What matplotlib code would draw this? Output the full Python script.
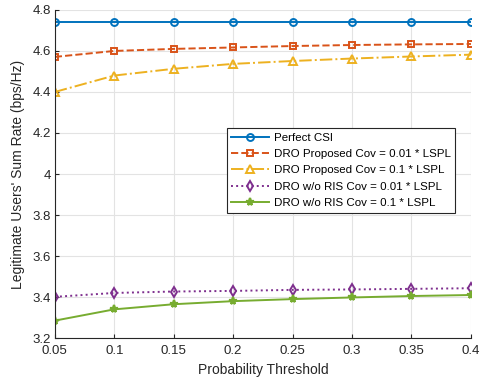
import numpy as np
import matplotlib
matplotlib.use('Agg')
import matplotlib.pyplot as plt

plt.rcParams['font.family'] = ['Liberation Sans', 'DejaVu Sans']

threshold = [0.05, 0.1, 0.15, 0.2, 0.25, 0.3, 0.35, 0.4]
perfect_csi = [4.741, 4.741, 4.741, 4.741, 4.741, 4.741, 4.741, 4.741]
dro_prop_001 = [4.571, 4.600, 4.610, 4.617, 4.624, 4.629, 4.632, 4.634]
dro_prop_01 = [4.400, 4.480, 4.513, 4.537, 4.551, 4.563, 4.573, 4.582]
dro_noris_001 = [3.401, 3.420, 3.427, 3.430, 3.435, 3.437, 3.440, 3.443]
dro_noris_01 = [3.285, 3.340, 3.365, 3.380, 3.390, 3.398, 3.405, 3.410]

labels = ['Perfect CSI',
          'DRO Proposed Cov = 0.01 * LSPL',
          'DRO Proposed Cov = 0.1 * LSPL',
          'DRO w/o RIS Cov = 0.01 * LSPL',
          'DRO w/o RIS Cov = 0.1 * LSPL']

fig = plt.figure(figsize=(4.85, 3.82), dpi=100)
ax = fig.add_axes([0.113, 0.115, 0.858, 0.859])

ax.plot(threshold, perfect_csi, '-o', color='#0072BD', lw=1.4, ms=5,
        mfc='none', mew=1.4, label=labels[0])
ax.plot(threshold, dro_prop_001, '--s', color='#D95319', lw=1.4, ms=5,
        mfc='none', mew=1.4, label=labels[1])
ax.plot(threshold, dro_prop_01, '-.^', color='#EDB120', lw=1.4, ms=6,
        mfc='none', mew=1.4, label=labels[2])
ax.plot(threshold, dro_noris_001, ':d', color='#7E2F8E', lw=1.4, ms=5.5,
        mfc='none', mew=1.4, label=labels[3])
ax.plot(threshold, dro_noris_01, '-*', color='#77AC30', lw=1.4, ms=5.5,
        mew=1.6, label=labels[4])

ax.set_xlim(0.05, 0.4)
ax.set_ylim(3.2, 4.8)
ax.set_xticks(threshold)
ax.set_xticklabels(['0.05', '0.1', '0.15', '0.2', '0.25', '0.3', '0.35', '0.4'])
ax.set_yticks(np.arange(3.2, 4.81, 0.2))
ax.set_yticklabels(['3.2', '3.4', '3.6', '3.8', '4', '4.2', '4.4', '4.6', '4.8'])
ax.grid(True, color='#e3e3e3', lw=0.8)
ax.set_axisbelow(True)
ax.tick_params(direction='in', labelsize=9.5, colors='#262626', length=3)
ax.tick_params(axis='x', pad=5)
ax.tick_params(axis='y', pad=3)
for s in ['top', 'right']:
    ax.spines[s].set_visible(False)
for s in ['left', 'bottom']:
    ax.spines[s].set_color('#262626')
ax.set_xlabel('Probability Threshold', fontsize=10, color='#262626', labelpad=4)
ax.set_ylabel("Legitimate Users' Sum Rate (bps/Hz)", fontsize=10,
              color='#262626', labelpad=5)

leg = ax.legend(loc='upper right', bbox_to_anchor=(0.962, 0.64), fontsize=8.25,
                fancybox=False, framealpha=1, edgecolor='#262626',
                borderpad=0.4, labelspacing=0.55, handlelength=3.3,
                handletextpad=0.4, borderaxespad=0)
leg.get_frame().set_linewidth(0.8)

fig.savefig('out.png', dpi=100)
